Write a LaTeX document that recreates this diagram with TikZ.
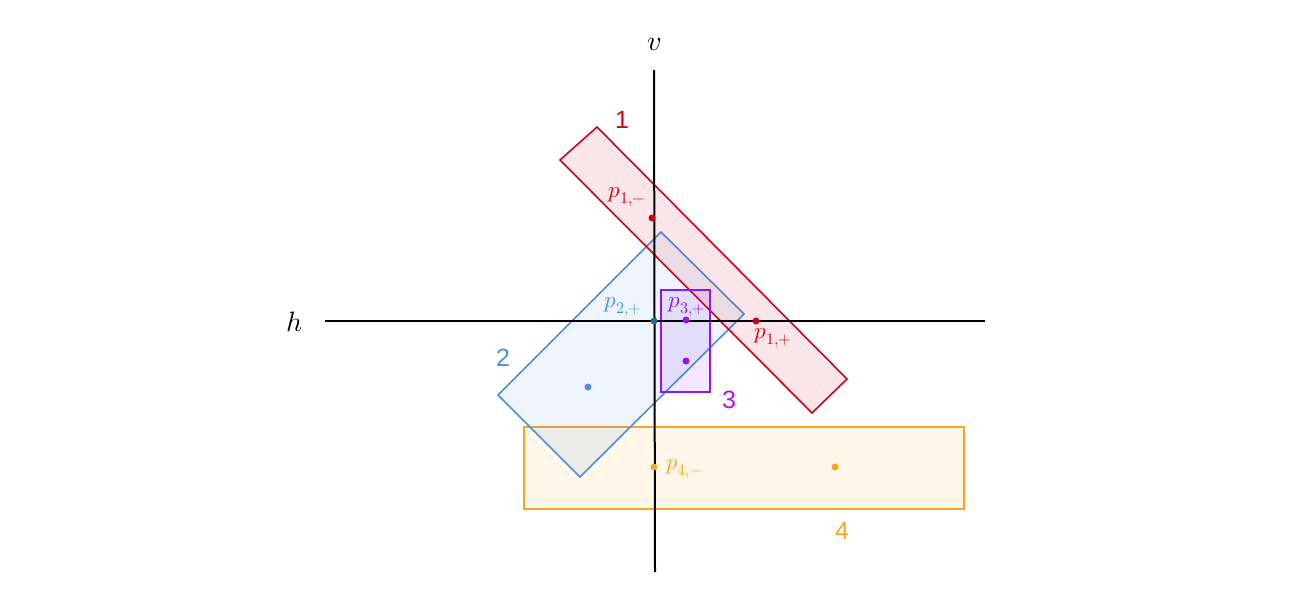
\documentclass[tikz,border=0pt]{standalone}
\usepackage{fontspec}
\usepackage{unicode-math}
\setmathfont{Latin Modern Math}
\newfontfamily\numfont{Liberation Sans}
\definecolor{cred}{HTML}{D0021B}
\definecolor{cblue}{HTML}{4A90E2}
\definecolor{cpurple}{HTML}{9013FE}
\definecolor{cmag}{HTML}{BD10E0}
\definecolor{corange}{HTML}{F5A623}
\tikzset{
  region/.style={draw=#1, line width=1.6pt, fill=#1, fill opacity=0.1},
  pt/.style={circle, fill=#1, inner sep=0pt, minimum size=7pt},
  axis/.style={draw=black, line width=2pt},
  num/.style={text=#1, font=\numfont\fontsize{25}{25}\selectfont},
  plabel/.style={text=#1, font=\fontsize{23}{23}\selectfont, inner sep=0pt}
}
\begin{document}
\begin{tikzpicture}[x=1pt,y=-1pt]
\useasboundingbox (0,0) rectangle (1314,602);
% Regions
\draw[region=corange] (524,427) rectangle (964,509);
\draw[region=cblue] (498,395) -- (661,232) -- (744,314) -- (580,477) -- cycle;
\draw[region=cred] (560,160) -- (597,127) -- (847,379) -- (812,413) -- cycle;
\draw[region=cpurple] (661,290) rectangle (710,392);
% Axes
\coordinate (hl) at (325,321);
\coordinate (hr) at (985,321);
\coordinate (vt) at (654,70);
\coordinate (vb) at (655,572);
\draw[axis] (hl) -- (hr);
\draw[axis] (vt) -- (vb);
\node[font=\fontsize{28}{28}\selectfont] (vlab) at (654,44) {$v$};
\node[font=\fontsize{28}{28}\selectfont] (hlab) at (295,322) {$h$};
% Region numbers
\node[num=cred] (n1) at (622,120) {1};
\node[num=cblue] (n2) at (503,358) {2};
\node[num=cmag] (n3) at (729,400) {3};
\node[num=corange] (n4) at (842,531) {4};
% Points
\node[pt=cred] (p1m) at (652,218) {};
\node[pt=cred] (p1p) at (756,321) {};
\node[pt=cblue!70!black] (p2p) at (654,321) {};
\node[pt=cblue] (c2) at (588,387) {};
\node[pt=cpurple] (p3p) at (686,320) {};
\node[pt=cpurple] (c3) at (686,361) {};
\node[pt=corange] (p4m) at (654,467) {};
\node[pt=corange] (c4) at (835,467) {};
% Point labels
\node[plabel=cred] (l1m) at (627,197) {$p_{1,-}$};
\node[plabel=cred] (l1p) at (773,338) {$p_{1,+}$};
\node[plabel=cblue] (l2p) at (623,307) {$p_{2,+}$};
\node[plabel=cpurple] (l3p) at (687,307) {$p_{3,+}$};
\node[plabel=corange, anchor=west] (l4m) at (666,469) {$p_{4,-}$};
\end{tikzpicture}
\end{document}
